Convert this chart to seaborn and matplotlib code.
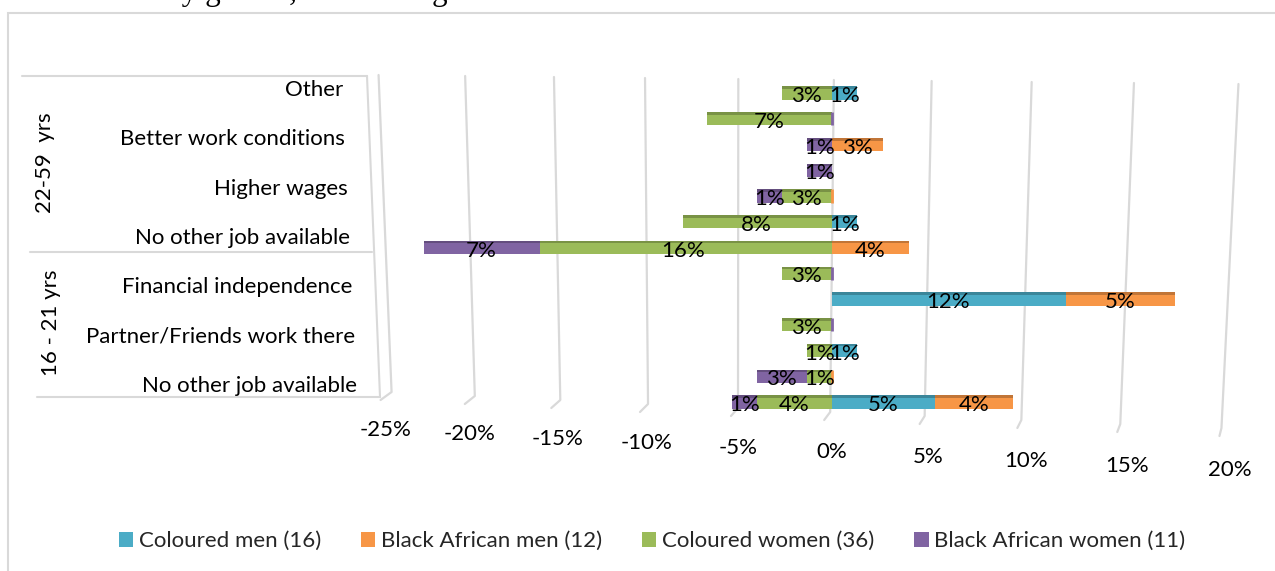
import numpy as np
import pandas as pd
import matplotlib
matplotlib.use("Agg")
import matplotlib.pyplot as plt
import seaborn as sns
from matplotlib.patches import Rectangle, Patch
from matplotlib.lines import Line2D
from matplotlib.transforms import ScaledTranslation, blended_transform_factory

nan = np.nan

# Rows are listed bottom to top; only every other row carries a reason label.
row_labels = ["No other job available", "", "Partner/Friends work there", "",
              "Financial independence", "", "No other job available", "",
              "Higher wages", "", "Better work conditions", "", "Other"]
age_groups = ["16 - 21 yrs", "22-59  yrs"]
series_names = ["Coloured men (16)", "Black African men (12)",
                "Coloured women (36)", "Black African women (11)"]

# Respondent counts per row (NaN = no response given)
coloured_men = [4, nan, 1, nan, 9, nan, nan, 1, nan, nan, nan, nan, 1]
black_african_men = [3, 0, nan, nan, 4, nan, 3, nan, 0, nan, 2, nan, nan]
coloured_women = [3, 1, 1, 2, nan, 2, 12, 6, 2, nan, nan, 5, 2]
black_african_women = [1, 2, nan, 0, nan, 0, 5, nan, 1, 1, 1, 0, nan]
total_respondents = 75

x_ticks = [-25, -20, -15, -10, -5, 0, 5, 10, 15, 20]

colors = ["#4BACC6", "#F79646", "#9BBB59", "#8064A2"]
grid_color = "#D9D9D9"

W, H = 1275, 571


def fx(x):
    return x / W


def fy(y):
    return 1 - y / H


sns.set_theme(style="white")
plt.rcParams["font.family"] = ["Lato", "DejaVu Sans"]
FS = 16

fig = plt.figure(figsize=(W / 100, H / 100), dpi=100)
fig.patch.set_facecolor("white")

# chart-area frame
fig.add_artist(Rectangle((fx(8), -0.1), 1.2, fy(13) + 0.1, transform=fig.transFigure,
                         fill=False, edgecolor=grid_color, linewidth=1.5))

AX_TOP, AX_BOT = 75.0, 412.3
ax = fig.add_axes([fx(376.7), fy(AX_BOT), fx(874.1), (AX_BOT - AX_TOP) / H])
ax.set_facecolor("none")

# mild perspective on the value axis
c = 0.00236


def fwd(x):
    x = np.asarray(x, dtype=float)
    return x + c * x * x


def inv(y):
    y = np.asarray(y, dtype=float)
    return (np.sqrt(np.maximum(1 + 4 * c * y, 0)) - 1) / (2 * c)


ax.set_xscale("function", functions=(fwd, inv))

rows = np.arange(len(row_labels))
pct = lambda a: np.asarray(a, dtype=float) / total_respondents * 100
cm, bam, cw, baw = (pct(a) for a in (coloured_men, black_african_men,
                                     coloured_women, black_african_women))
cm0, cw0 = np.nan_to_num(cm), np.nan_to_num(cw)

bar_h = 0.52


def darker(col, f=0.78):
    r, g, b = matplotlib.colors.to_rgb(col)
    return (r * f, g * f, b * f)


def draw_series(values, color):
    n0 = len(ax.patches)
    df = pd.DataFrame({"row": rows, "value": values})
    sns.barplot(data=df, x="value", y="row", orient="h", native_scale=True,
                color=color, saturation=1, width=bar_h, linewidth=0,
                errorbar=None, ax=ax)
    # darker top face on each new bar
    for p in list(ax.patches[n0:]):
        if not np.isfinite(p.get_width()):
            continue
        x0, y0, w, h = p.get_x(), p.get_y(), p.get_width(), p.get_height()
        ax.add_patch(Rectangle((x0, y0 + h * 0.8), w, h * 0.2,
                               facecolor=darker(color), linewidth=0))


# stacked by overdrawing: outer segment first, inner segment on top
draw_series(np.where(np.isnan(bam) | (bam == 0), nan, cm0 + bam), colors[1])
draw_series(cm, colors[0])
draw_series(np.where(np.isnan(baw) | (baw == 0), nan, -(cw0 + baw)), colors[3])
draw_series(np.where(cw == 0, nan, -cw), colors[2])

# zero entries appear as thin slivers at the positive stacking point
stack = [cm, bam, cw, baw]
for r in rows:
    pos = 0.0
    for i, (s, col) in enumerate(zip(stack, colors)):
        v = s[r]
        if np.isnan(v):
            continue
        if v == 0:
            ax.barh(r, 0, left=pos, height=bar_h, color=col,
                    edgecolor=col, linewidth=2)
        elif i < 2:
            pos += v

# segment value labels
lab_tr = ax.transData + ScaledTranslation(0, -3 / 100, fig.dpi_scale_trans)
for r in rows:
    segs = []
    if cm[r] > 0:
        segs.append((cm[r] / 2, cm[r]))
    if bam[r] > 0:
        segs.append((cm0[r] + bam[r] / 2, bam[r]))
    if cw[r] > 0:
        segs.append((-cw[r] / 2, cw[r]))
    if baw[r] > 0:
        segs.append((-cw0[r] - baw[r] / 2, baw[r]))
    for xc, v in segs:
        ax.text(xc, r, f"{v:.0f}%", ha="center", va="center", transform=lab_tr,
                fontsize=FS, color="black", zorder=5)

ax.set_xlim(-25.5, 21)
ax.set_ylim(-0.4, 12.7)
ax.set_xticks(x_ticks)
ax.set_yticks([])
ax.tick_params(labelbottom=False, length=0)
ax.set_xlabel("")
ax.set_ylabel("")
for sp in ax.spines.values():
    sp.set_visible(False)
ax.grid(False)

# gridlines receding in depth: slight lean plus a short foot on the floor
xt = np.array(x_ticks, dtype=float)
frac = (xt - xt[0]) / (xt[-1] - xt[0])
top_px = 75 + 9 * frac
bot_px = 392 + 36 * frac
lean = 13 - 30 * frac
foot_dx = -11 + 9 * frac
to_fig = fig.transFigure.inverted()
for t, tp, bp, ln, fd in zip(xt, top_px, bot_px, lean, foot_dx):
    xm = ax.transData.transform((t, 0))[0]
    pts = [(xm - ln / 2, H - tp), (xm + ln / 2, H - bp), (xm + ln / 2 + fd, H - bp - 8)]
    pts = to_fig.transform(pts)
    fig.add_artist(Line2D(pts[:, 0], pts[:, 1], transform=fig.transFigure,
                          color=grid_color, linewidth=1.6, zorder=0.5))
ax.set_zorder(1)

# value-axis tick labels, staggered along the floor edge
lab_px = 430 + 40 * frac
for t, ypx in zip(x_ticks, lab_px):
    ax.text(t, (AX_BOT - ypx) / (AX_BOT - AX_TOP), f"{t}%",
            transform=ax.get_xaxis_transform(),
            ha="center", va="center", fontsize=FS, color="black")

# category labels
for r in rows:
    if not row_labels[r]:
        continue
    k = (12 - r) / 12
    right_px = 343 + 14 * k
    up_px = 3 + 13 * k
    tr = blended_transform_factory(fig.transFigure, ax.transData) + \
        ScaledTranslation(0, up_px / 100, fig.dpi_scale_trans)
    ax.text(fx(right_px), r, row_labels[r], transform=tr, ha="right",
            va="center", fontsize=FS, color="black")

# category box with age-group separator
for (x0, y0), (x1, y1) in [((22, 76), (367, 76)), ((30, 252), (372, 252)),
                           ((37, 397), (380, 397)), ((367, 76), (380, 397))]:
    fig.add_artist(Line2D([fx(x0), fx(x1)], [fy(y0), fy(y1)],
                          transform=fig.transFigure, color=grid_color,
                          linewidth=1.5))

fig.text(fx(51), fy(323), age_groups[0], rotation=90, ha="center",
         va="center", fontsize=FS, color="black")
fig.text(fx(45), fy(163), age_groups[1], rotation=90, ha="center",
         va="center", fontsize=FS, color="black")

# caption line running off the top edge
fig.text(fx(166), fy(0.0), "by gender, race and age", family="Liberation Serif",
         fontsize=22.5, ha="left", va="baseline", color="black")

handles = [Patch(facecolor=col, linewidth=0) for col in colors]
fig.legend(handles, series_names, loc="center", bbox_to_anchor=(fx(652), fy(541)),
           ncol=4, frameon=False, fontsize=FS, handlelength=0.65,
           handleheight=0.65, handletextpad=0.25, columnspacing=1.8,
           borderaxespad=0)

fig.savefig("out.png", dpi=100, facecolor="white")
